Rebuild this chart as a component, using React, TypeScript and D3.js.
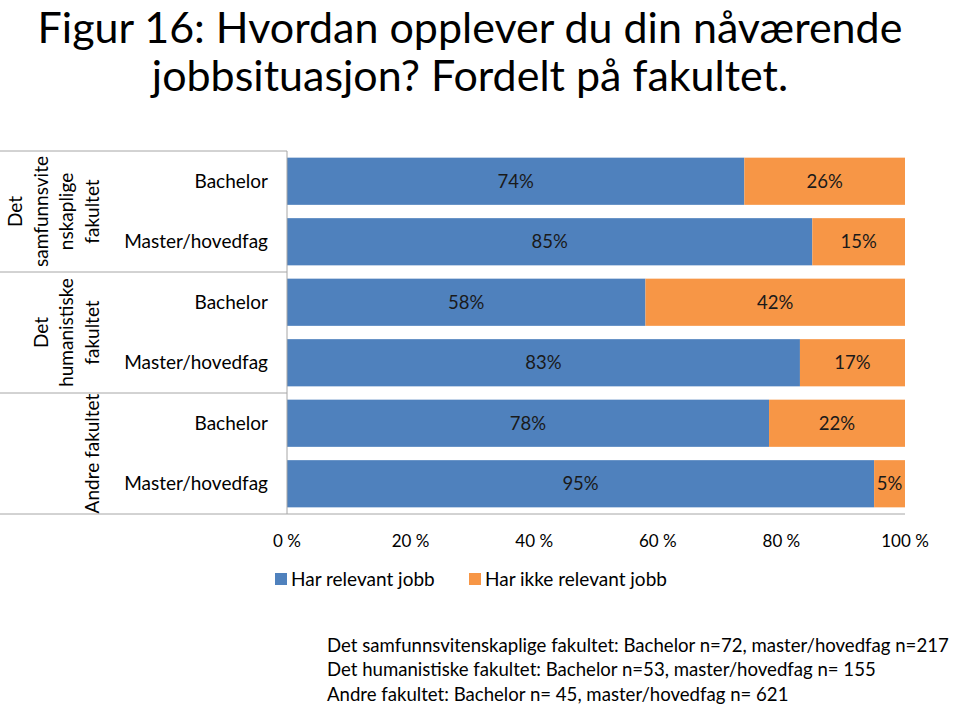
import React from "react";
import * as d3 from "d3";

const titleLines = ["Figur 16: Hvordan opplever du din nåværende", "jobbsituasjon? Fordelt på fakultet."];
const categories = ["SV-Bachelor", "SV-Master", "HF-Bachelor", "HF-Master", "A-Bachelor", "A-Master"];
const categoryLabels = ["Bachelor", "Master/hovedfag", "Bachelor", "Master/hovedfag", "Bachelor", "Master/hovedfag"];
const relevant = [74, 85, 58, 83, 78, 95];
const notRelevant = [26, 15, 42, 17, 22, 5];
const groupLabels = [
  ["Det", "samfunnsvite", "nskaplige", "fakultet"],
  ["Det", "humanistiske", "fakultet"],
  ["Andre fakultet"],
];
const groupSizes = [2, 2, 2];
const ticks = [0, 20, 40, 60, 80, 100];
const seriesNames = ["Har relevant jobb", "Har ikke relevant jobb"];
const notes = [
  "Det samfunnsvitenskaplige fakultet: Bachelor n=72, master/hovedfag n=217",
  "Det humanistiske fakultet: Bachelor n=53, master/hovedfag n= 155",
  "Andre fakultet: Bachelor n= 45, master/hovedfag n= 621",
];

const BLUE = "#4F81BD";
const ORANGE = "#F79646";
const FONT = "Lato, 'Open Sans', sans-serif";
const GRID = "#A6A6A6";

export default function App() {
  const W = 960, H = 706;
  const left = 287, right = 905, top = 151, bottom = 514;
  const x = d3.scaleLinear().domain([0, 100]).range([left, right]);
  const y = d3.scaleBand<string>().domain(categories).range([top, bottom]).paddingInner(0.22).paddingOuter(0.11);
  const step = y.step();

  let acc = 0;
  const groups = groupSizes.map((n, i) => {
    const start = acc;
    acc += n;
    const y0 = top + start * step;
    const y1 = top + acc * step;
    return { y0, y1, lines: groupLabels[i] };
  });

  return (
    <svg width={W} height={H} style={{ position: "absolute", left: 0, top: 0, background: "#fff" }} fontFamily={FONT}>
      <rect width={W} height={H} fill="#fff" />
      {titleLines.map((t, i) => (
        <text key={i} x={470} y={43 + i * 48} textAnchor="middle" fontSize={43} fill="#000">{t}</text>
      ))}

      {/* bars */}
      {categories.map((c, i) => {
        const yy = y(c)!;
        const h = y.bandwidth();
        const xb = x(relevant[i]);
        return (
          <g key={c}>
            <rect x={x(0)} y={yy} width={xb - x(0)} height={h} fill={BLUE} />
            <rect x={xb} y={yy} width={x(relevant[i] + notRelevant[i]) - xb} height={h} fill={ORANGE} />
            <text x={(x(0) + xb) / 2} y={yy + h / 2} dy="0.35em" textAnchor="middle" fontSize={18.5} fill="#1a1a1a">{relevant[i]}%</text>
            <text x={(xb + x(relevant[i] + notRelevant[i])) / 2} y={yy + h / 2} dy="0.35em" textAnchor="middle" fontSize={18.5} fill="#1a1a1a">{notRelevant[i]}%</text>
            <text x={268} y={yy + h / 2} dy="0.35em" textAnchor="end" fontSize={19} fill="#000">{categoryLabels[i]}</text>
          </g>
        );
      })}

      {/* frame lines */}
      <line x1={left} x2={left} y1={top} y2={bottom} stroke={GRID} />
      <line x1={0} x2={left} y1={top} y2={top} stroke={GRID} />
      {groups.slice(1).map((g, i) => (
        <line key={i} x1={0} x2={left} y1={g.y0} y2={g.y0} stroke={GRID} />
      ))}
      <line x1={0} x2={right} y1={bottom} y2={bottom} stroke={GRID} />

      {/* group labels */}
      {groups.map((g, gi) => {
        const cy = (g.y0 + g.y1) / 2;
        const n = g.lines.length;
        return (
          <text key={gi} transform="rotate(-90)" textAnchor="middle" fontSize={19} fill="#000">
            {g.lines.map((l, li) => (
              <tspan key={li} x={-cy} y={92 - (n - 1 - li) * 25.5} dy="0.35em">{l}</tspan>
            ))}
          </text>
        );
      })}

      {/* x tick labels */}
      {ticks.map((t) => (
        <text key={t} x={x(t)} y={541} dy="0.35em" textAnchor="middle" fontSize={17} fill="#000">{t} %</text>
      ))}

      {/* legend */}
      {[
        { c: BLUE, x: 275 },
        { c: ORANGE, x: 469 },
      ].map((l, i) => (
        <g key={i}>
          <rect x={l.x} y={573} width={12} height={12} fill={l.c} />
          <text x={l.x + 16} y={579} dy="0.35em" fontSize={19} fill="#000">{seriesNames[i]}</text>
        </g>
      ))}

      {/* notes */}
      {notes.map((n, i) => (
        <text key={i} x={327} y={645 + i * 24.5} dy="0.35em" fontSize={18.6} fill="#000">{n}</text>
      ))}
    </svg>
  );
}
